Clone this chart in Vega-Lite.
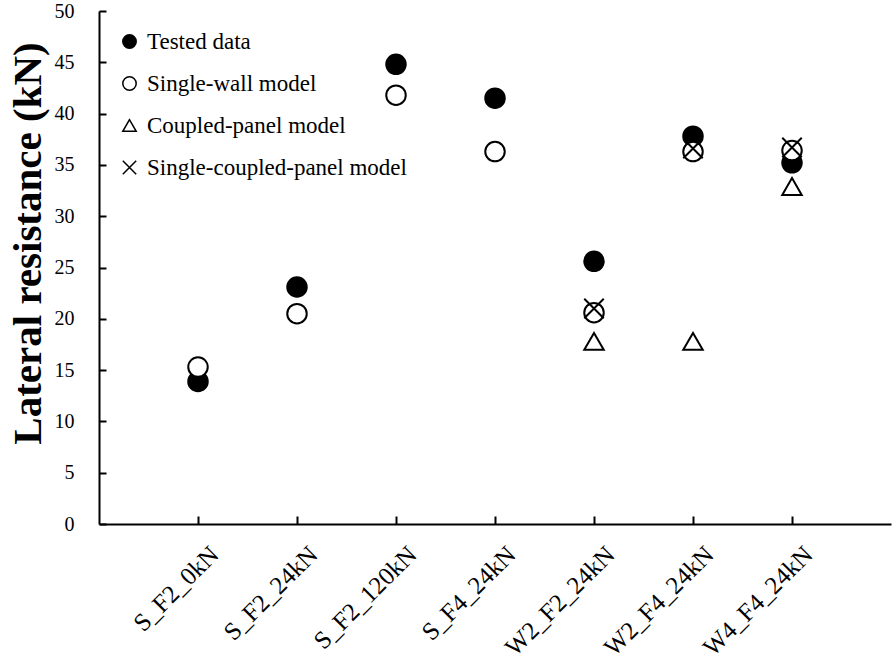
{
  "$schema": "https://vega.github.io/schema/vega-lite/v6.json",
  "width": 792,
  "height": 513,
  "autosize": {"type": "none"},
  "padding": {"left": 99, "top": 11, "right": 4, "bottom": 138},
  "background": "white",
  "config": {
    "view": {"stroke": null},
    "font": "Liberation Serif",
    "axis": {
      "domainColor": "black",
      "domainWidth": 2,
      "tickColor": "black",
      "tickWidth": 2,
      "grid": false,
      "labelColor": "black",
      "labelFont": "Liberation Serif",
      "titleFont": "Liberation Serif",
      "titleColor": "black"
    }
  },
  "data": {
    "values": [
      {"specimen": "S_F2_0kN", "series": "Tested data", "resistance": 13.9},
      {"specimen": "S_F2_24kN", "series": "Tested data", "resistance": 23.1},
      {"specimen": "S_F2_120kN", "series": "Tested data", "resistance": 44.8},
      {"specimen": "S_F4_24kN", "series": "Tested data", "resistance": 41.5},
      {"specimen": "W2_F2_24kN", "series": "Tested data", "resistance": 25.6},
      {"specimen": "W2_F4_24kN", "series": "Tested data", "resistance": 37.8},
      {"specimen": "W4_F4_24kN", "series": "Tested data", "resistance": 35.2},
      {"specimen": "S_F2_0kN", "series": "Single-wall model", "resistance": 15.3},
      {"specimen": "S_F2_24kN", "series": "Single-wall model", "resistance": 20.5},
      {"specimen": "S_F2_120kN", "series": "Single-wall model", "resistance": 41.8},
      {"specimen": "S_F4_24kN", "series": "Single-wall model", "resistance": 36.3},
      {"specimen": "W2_F2_24kN", "series": "Single-wall model", "resistance": 20.6},
      {"specimen": "W2_F4_24kN", "series": "Single-wall model", "resistance": 36.3},
      {"specimen": "W4_F4_24kN", "series": "Single-wall model", "resistance": 36.4},
      {"specimen": "W2_F2_24kN", "series": "Coupled-panel model", "resistance": 17.8},
      {"specimen": "W2_F4_24kN", "series": "Coupled-panel model", "resistance": 17.8},
      {"specimen": "W4_F4_24kN", "series": "Coupled-panel model", "resistance": 32.9},
      {"specimen": "W2_F2_24kN", "series": "Single-coupled-panel model", "resistance": 21.0},
      {"specimen": "W2_F4_24kN", "series": "Single-coupled-panel model", "resistance": 36.6},
      {"specimen": "W4_F4_24kN", "series": "Single-coupled-panel model", "resistance": 36.7}
    ]
  },
  "mark": {"type": "point", "filled": true, "size": 380, "strokeWidth": 2, "stroke": "black", "opacity": 1},
  "encoding": {
    "x": {
      "field": "specimen",
      "type": "nominal",
      "sort": ["S_F2_0kN", "S_F2_24kN", "S_F2_120kN", "S_F4_24kN", "W2_F2_24kN", "W2_F4_24kN", "W4_F4_24kN"],
      "scale": {"type": "point", "padding": 1},
      "axis": {
        "title": null,
        "labelAngle": -45,
        "labelAlign": "right",
        "labelBaseline": "middle",
        "labelFontSize": 25,
        "labelOffset": 16,
        "labelLimit": 300,
        "tickSize": -8,
        "labelPadding": 34
      }
    },
    "y": {
      "field": "resistance",
      "type": "quantitative",
      "scale": {"domain": [0, 50], "nice": false},
      "axis": {
        "title": "Lateral resistance (kN)",
        "titleFontSize": 41,
        "titleFontWeight": "bold",
        "titleY": 232,
        "titleX": -71,
        "titleBaseline": "middle",
        "titleLimit": 600,
        "values": [0, 5, 10, 15, 20, 25, 30, 35, 40, 45, 50],
        "labelFontSize": 20,
        "labelBaseline": "middle",
        "tickSize": -7,
        "labelPadding": 32
      }
    },
    "shape": {
      "field": "series",
      "type": "nominal",
      "sort": null,
      "scale": {
        "domain": ["Tested data", "Single-wall model", "Coupled-panel model", "Single-coupled-panel model"],
        "range": ["circle", "circle", "triangle-up", "M-1,-1L1,1M-1,1L1,-1"]
      },
      "legend": {
        "title": null,
        "orient": "none",
        "legendX": 19,
        "legendY": 19,
        "padding": 0,
        "labelFontSize": 23,
        "labelFont": "Liberation Serif",
        "labelColor": "black",
        "labelLimit": 400,
        "symbolSize": 180,
        "rowPadding": 18,
        "labelOffset": 6,
        "encode": {"symbols": {"update": {"stroke": {"value": "black"}, "strokeWidth": {"value": 2}}}}
      }
    },
    "fill": {
      "field": "series",
      "type": "nominal",
      "sort": null,
      "scale": {
        "domain": ["Tested data", "Single-wall model", "Coupled-panel model", "Single-coupled-panel model"],
        "range": ["black", "white", "white", "transparent"]
      },
      "legend": {
        "title": null,
        "orient": "none",
        "legendX": 19,
        "legendY": 19,
        "padding": 0,
        "labelFontSize": 23,
        "labelFont": "Liberation Serif",
        "labelColor": "black",
        "labelLimit": 400,
        "symbolSize": 180,
        "rowPadding": 18,
        "labelOffset": 6,
        "encode": {"symbols": {"update": {"stroke": {"value": "black"}, "strokeWidth": {"value": 2}}}}
      }
    }
  }
}
